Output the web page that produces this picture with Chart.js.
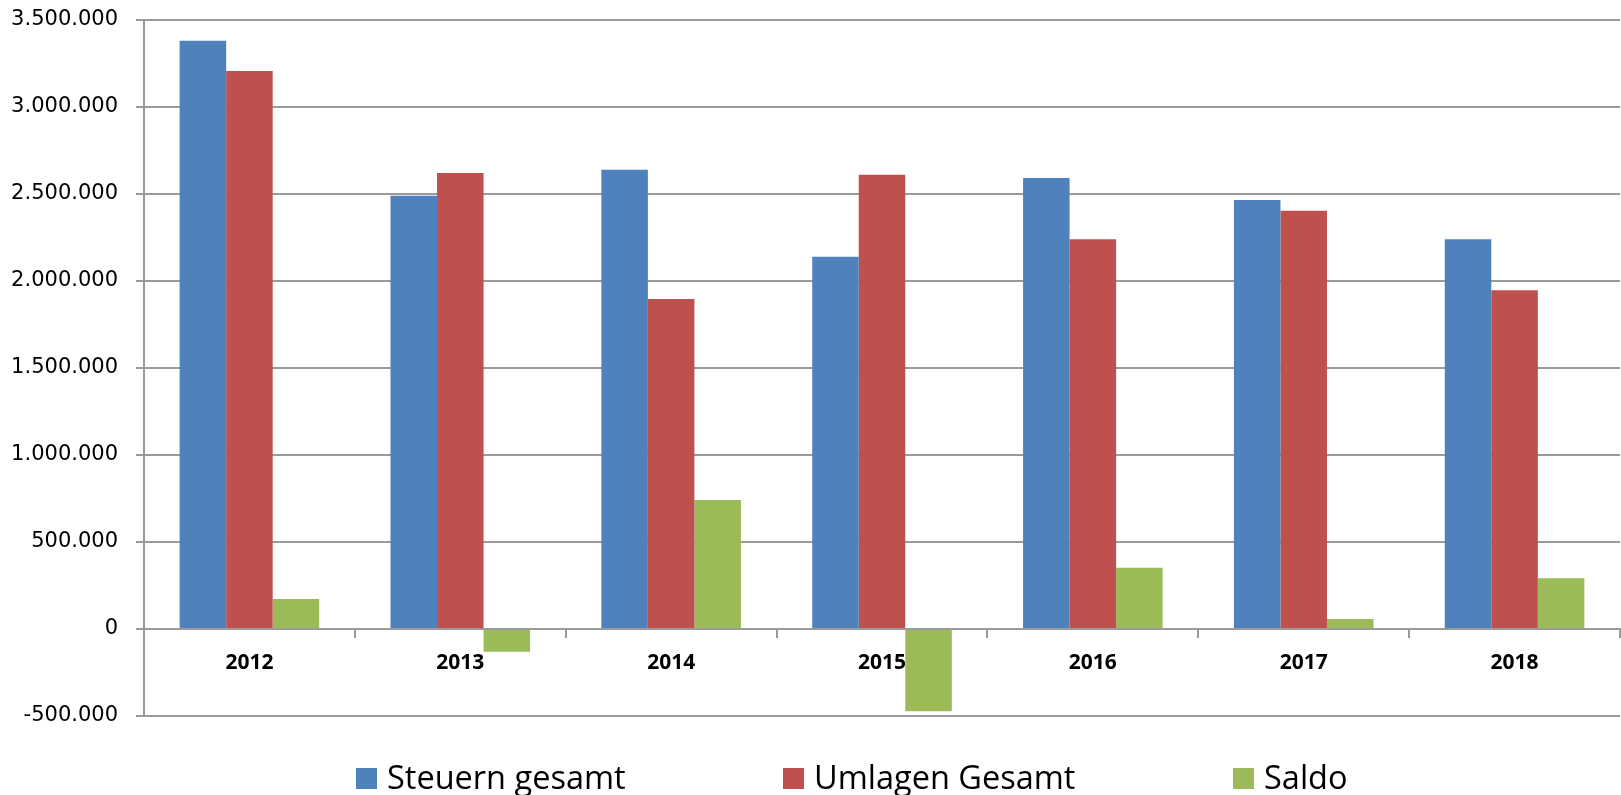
<!DOCTYPE html>
<html>
<head>
<meta charset="utf-8">
<script src="https://cdn.jsdelivr.net/npm/chart.js@4.4.1/dist/chart.umd.min.js"></script>
<style>
  html, body { margin: 0; padding: 0; background: #fff; }
  #wrap { position: relative; width: 1621px; height: 795px; overflow: hidden; }
  #legend {
    position: absolute; left: 0; top: 761px; width: 1621px; height: 40px;
    font-family: "Open Sans", sans-serif; font-size: 32.5px; line-height: 1; color: #000;
  }
  #legend .item { position: absolute; top: 0; display: flex; align-items: center; white-space: nowrap; }
  #legend .box { width: 21px; height: 21px; margin-right: 10px; margin-top: 2px; }
</style>
</head>
<body>
<div id="wrap">
  <canvas id="steuerChart" width="1621" height="795"></canvas>
  <div id="legend"></div>
</div>
<script>
// == 데이터 == //
const YEARS = ['2012', '2013', '2014', '2015', '2016', '2017', '2018'];
const SERIES_NAMES = ['Steuern gesamt', 'Umlagen Gesamt', 'Saldo'];
const STEUERN = [3381000, 2490000, 2640000, 2140000, 2592000, 2466000, 2240000];
const UMLAGEN = [3207000, 2621000, 1897000, 2611000, 2240000, 2404000, 1947000];
const SALDO = [173000, -131000, 741000, -472000, 352000, 58000, 292000];
const Y_MIN = -500000;
const Y_MAX = 3500000;
const Y_STEP = 500000;

const COLORS = ['#4F81BD', '#C0504D', '#9BBB59'];
const GRID_COLOR = '#9a9a9a';
const LEGEND_LEFT = [356, 783, 1233];

function formatNumber(v) {
  return String(v).replace(/\B(?=(\d{3})+(?!\d))/g, '.');
}

const CHART_DATA = {
  labels: YEARS,
  datasets: [STEUERN, UMLAGEN, SALDO].map((values, i) => ({
    label: SERIES_NAMES[i],
    data: values,
    backgroundColor: COLORS[i],
    borderWidth: 0,
    categoryPercentage: 0.662,
    barPercentage: 1.0
  }))
};

const chart = new Chart(document.getElementById('steuerChart'), {
  type: 'bar',
  data: CHART_DATA,
  options: {
    responsive: false,
    animation: false,
    layout: {
      padding: { top: 20, right: 1, bottom: 79, left: 0 }
    },
    scales: {
      x: {
        position: { y: 0 },
        grid: {
          offset: true,
          drawOnChartArea: false,
          drawTicks: true,
          tickLength: 8,
          color: GRID_COLOR,
          lineWidth: 2
        },
        border: { display: true, color: GRID_COLOR, width: 2 },
        ticks: {
          color: '#000',
          padding: 13,
          font: { family: '"Open Sans", sans-serif', size: 21, weight: 'bold' }
        }
      },
      y: {
        min: Y_MIN,
        max: Y_MAX,
        afterFit: (scale) => {
          scale.width = 144;
          // 라벨 간격이 위/아래 여백을 늘리지 않도록
          scale.paddingTop = 12;
          scale.paddingBottom = 12;
        },
        grid: {
          color: GRID_COLOR,
          lineWidth: 2,
          tickLength: 8
        },
        border: { display: true, color: GRID_COLOR, width: 2 },
        ticks: {
          stepSize: Y_STEP,
          color: '#000',
          padding: 18,
          font: { family: '"DejaVu Sans", sans-serif', size: 21 },
          callback: (v) => formatNumber(v)
        }
      }
    },
    plugins: {
      legend: { display: false },
      tooltip: { enabled: false }
    }
  }
});

// == 범례 == //
const LEGEND = document.getElementById('legend');
chart.data.datasets.forEach((ds, i) => {
  const item = document.createElement('div');
  item.className = 'item';
  item.style.left = LEGEND_LEFT[i] + 'px';
  item.innerHTML = '<span class="box" style="background:' + ds.backgroundColor + '"></span><span>' + ds.label + '</span>';
  LEGEND.appendChild(item);
});
</script>
</body>
</html>
